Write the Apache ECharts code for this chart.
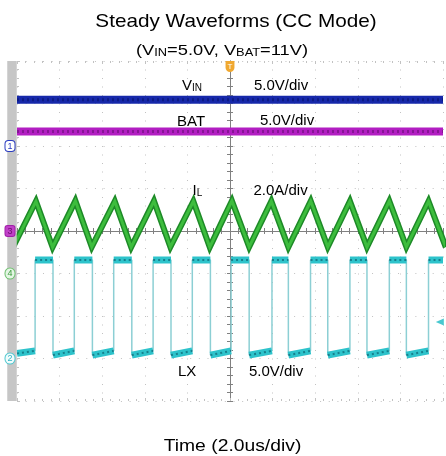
<!DOCTYPE html>
<html>
<head>
<meta charset="utf-8">
<script src="https://cdn.jsdelivr.net/npm/echarts@6/dist/echarts.min.js"></script>
<style>
html, body { margin: 0; padding: 0; background: #fff; }
#chart { width: 446px; height: 456px; }
</style>
</head>
<body>
<div id="chart"></div>
<script>
// scope setup: ground marker position (div) and units per div
const ch1 = { pos: 2, scale: 5 }    // VIN
const ch3 = { pos: 0, scale: 5 }    // BAT
const ch4 = { pos: -1, scale: 2 }   // IL
const ch2 = { pos: -3, scale: 5 }   // LX

// time in us, 2.0us/div
const vinTimes = [-10, 10]
const vinVolts = [5.45, 5.45]
const batTimes = [-10, 10]
const batVolts = [11.7, 11.7]

const ilPeakTimes = [-9.11, -7.26, -5.41, -3.57, -1.72, 0.09, 1.94, 3.79, 5.63, 7.48, 9.32]
const ilPeakAmps = [3.40, 3.42, 3.40, 3.41, 3.40, 3.42, 3.40, 3.41, 3.40, 3.41, 3.40]
const ilValleyTimes = [-10.18, -8.33, -6.49, -4.64, -2.80, -0.95, 0.90, 2.74, 4.59, 6.43, 8.28, 10.13]
const ilValleyAmps = [1.25, 1.24, 1.25, 1.24, 1.25, 1.24, 1.25, 1.24, 1.25, 1.24, 1.25, 1.24]

// LX switch node: goes high at each rise, low at each fall
const lxRiseTimes = [-9.15, -7.31, -5.46, -3.61, -1.77, 0.05, 1.97, 3.78, 5.63, 7.48, 9.32]
const lxFallTimes = [-8.31, -6.46, -4.61, -2.77, -0.92, 0.90, 2.74, 4.59, 6.43, 8.28]
const lxHighVolts = [11.6, 11.6, 11.6, 11.6, 11.6, 11.6, 11.6, 11.6, 11.6, 11.6, 11.6]
const lxLowStartVolts = [0.6, 0.4, 0.4, 0.4, 0.4, 0.4, 0.4, 0.4, 0.4, 0.4, 0.4]
const lxLowEndVolts = [0.9, 0.9, 0.9, 0.9, 0.9, 0.9, 0.9, 0.9, 0.9, 0.9, 0.9]

const toDiv = (ch, v) => ch.pos + v / ch.scale

const vinData = vinTimes.map((t, i) => [t, toDiv(ch1, vinVolts[i])])
const batData = batTimes.map((t, i) => [t, toDiv(ch3, batVolts[i])])

const ilData = []
ilValleyTimes.forEach((t, i) => {
    ilData.push([t, toDiv(ch4, ilValleyAmps[i])])
    if (i < ilPeakTimes.length) ilData.push([ilPeakTimes[i], toDiv(ch4, ilPeakAmps[i])])
})

// thin trace with edges, and the thick level parts split by gaps
const lxEdge = []
const lxLevel = []
let lowStart = -10
lxRiseTimes.forEach((rise, i) => {
    const lo0 = toDiv(ch2, lxLowStartVolts[i])
    const lo1 = toDiv(ch2, lxLowEndVolts[i])
    const hi = toDiv(ch2, lxHighVolts[i])
    const fall = i < lxFallTimes.length ? lxFallTimes[i] : 10
    lxEdge.push([lowStart, lo0], [rise, lo1], [rise, hi], [fall, hi])
    lxLevel.push([lowStart, lo0], [rise, lo1], null, [rise, hi], [fall, hi], null)
    lowStart = fall
})

const FONT = '"Liberation Sans", Arial, sans-serif'
const gridGray = '#c2c2c2'
const crossGray = '#808080'

const chart = echarts.init(document.getElementById('chart'))

const centerAxis = (pos) => ({
    type: 'value', min: -10, max: 10, interval: 2, position: pos,
    axisLine: { onZero: true, onZeroAxisIndex: 0, lineStyle: { color: crossGray, width: 1 } },
    axisTick: { show: true, length: 3, lineStyle: { color: crossGray } },
    minorTick: { show: true, splitNumber: 5, length: 3, lineStyle: { color: crossGray } },
    axisLabel: { show: false },
    splitLine: { show: false }
})
const centerYAxis = (pos) => ({
    type: 'value', min: -4, max: 4, interval: 1, position: pos,
    axisLine: { onZero: true, onZeroAxisIndex: 0, lineStyle: { color: crossGray, width: 1 } },
    axisTick: { show: true, length: 3, lineStyle: { color: crossGray } },
    minorTick: { show: true, splitNumber: 5, length: 3, lineStyle: { color: crossGray } },
    axisLabel: { show: false },
    splitLine: { show: false }
})
const edgeAxis = (kind, pos) => ({
    type: 'value', position: pos,
    min: kind === 'x' ? -10 : -4, max: kind === 'x' ? 10 : 4, interval: kind === 'x' ? 2 : 1,
    axisLine: { show: false, onZero: false },
    axisTick: { show: true, inside: true, length: 3, lineStyle: { color: gridGray } },
    minorTick: { show: true, splitNumber: 5, length: 2, lineStyle: { color: gridGray } },
    axisLabel: { show: false },
    splitLine: { show: false }
})

const markerRich = {
    c1: { color: '#2b3cc0', backgroundColor: '#fff', borderColor: '#2b3cc0', borderWidth: 1, borderRadius: 3, padding: [1, 2, 0, 2], fontSize: 9, fontFamily: FONT },
    c3: { color: '#6a106a', backgroundColor: '#c040c8', borderColor: '#a020a8', borderWidth: 1, borderRadius: 2, padding: [1, 2, 0, 2], fontSize: 9, fontFamily: FONT },
    c4: { color: '#3a9a3a', backgroundColor: '#e4f6e4', borderColor: '#70c070', borderWidth: 1, borderRadius: 6, padding: [1, 2, 0, 2], fontSize: 9, fontFamily: FONT },
    c2: { color: '#30b4c4', backgroundColor: '#f0fcfc', borderColor: '#50c8d0', borderWidth: 1, borderRadius: 6, padding: [1, 2, 0, 2], fontSize: 9, fontFamily: FONT }
}
const markerAt = { '2': '{c1|1}', '0': '{c3|3}', '-1': '{c4|4}', '-3': '{c2|2}' }

const labelRich = {
    m: { fontSize: 15, lineHeight: 15, fontFamily: FONT, fill: '#000' },
    s: { fontSize: 10, lineHeight: 11, fontFamily: FONT, verticalAlign: 'bottom', fill: '#000' }
}
const txt = (x, y, text, extra) => Object.assign({
    type: 'text', x: x, y: y, silent: true, z: 100,
    style: { text: text, fill: '#000', font: '15px ' + FONT, align: 'left', verticalAlign: 'middle', rich: labelRich }
}, extra || {})

chart.setOption({
    animation: false,
    backgroundColor: '#fff',
    grid: { left: 17, top: 61, width: 433, height: 340, containLabel: false },
    xAxis: [
        Object.assign(centerAxis('bottom'), {
            splitLine: { show: true, lineStyle: { color: gridGray, width: 1, type: [1, 7.5] } }
        }),
        centerAxis('top'),
        Object.assign(edgeAxis('x', 'top'), {
            axisLabel: {
                show: true, inside: true, margin: 0, interval: 0,
                formatter: v => v === 0 ? '{t|T}' : '',
                rich: { t: { color: '#fff', backgroundColor: '#f0a830', borderRadius: [0, 0, 5, 5], fontSize: 8, padding: [2, 2, 1, 2], fontFamily: FONT } }
            }
        }),
        edgeAxis('x', 'bottom')
    ],
    yAxis: [
        Object.assign(centerYAxis('left'), {
            splitLine: { show: true, lineStyle: { color: gridGray, width: 1, type: [1, 7.66] } }
        }),
        centerYAxis('right'),
        {
            type: 'value', min: -4, max: 4, interval: 1, position: 'left', offset: 5, z: 10,
            axisLine: { show: true, onZero: false, lineStyle: { color: '#c6c6c6', width: 9.5, cap: 'butt' } },
            axisTick: { show: false },
            axisLabel: {
                show: true, margin: 2, align: 'center',
                formatter: v => markerAt[String(v)] || '',
                rich: markerRich
            },
            splitLine: { show: false }
        },
        edgeAxis('y', 'left')
    ],
    graphic: [
        txt(236, 22, '', { scaleX: 1.12, style: { text: 'Steady Waveforms (CC Mode)', fill: '#000', font: '18.5px ' + FONT, align: 'center', verticalAlign: 'middle' } }),
        txt(222, 51, '', {
            scaleX: 1.22,
            style: {
                text: '{m|(V}{s|IN}{m|=5.0V, V}{s|BAT}{m|=11V)}', align: 'center', verticalAlign: 'middle', fill: '#000',
                rich: {
                    m: { fontSize: 15, lineHeight: 15, fontFamily: FONT, fill: '#000' },
                    s: { fontSize: 10.5, lineHeight: 11, fontFamily: FONT, verticalAlign: 'bottom', fill: '#000' }
                }
            }
        }),
        txt(232.5, 446, '', { scaleX: 1.17, style: { text: 'Time (2.0us/div)', fill: '#000', font: '16.5px ' + FONT, align: 'center', verticalAlign: 'middle' } }),
        txt(182, 86, '{m|V}{s|IN}'),
        txt(254, 86, '5.0V/div'),
        txt(177, 121.5, 'BAT'),
        txt(260, 121, '5.0V/div'),
        txt(192.5, 191, '{m|I}{s|L}'),
        txt(253.5, 190.5, '2.0A/div'),
        txt(178, 371.5, 'LX'),
        txt(249, 371.5, '5.0V/div')
    ],
    series: [
        {
            name: 'LX edges', type: 'line', data: lxEdge, symbol: 'none',
            lineStyle: { color: '#8ccfd4', width: 1.5 },
            markPoint: {
                symbol: 'triangle', symbolSize: [7, 8], symbolRotate: 90, silent: true,
                itemStyle: { color: '#48c8d0' }, label: { show: false },
                data: [{ coord: [9.85, -2.14] }]
            }
        },
        {
            name: 'LX', type: 'line', data: lxLevel, symbol: 'none', connectNulls: false,
            lineStyle: { color: '#2ec3cb', width: 7 }
        },
        {
            name: 'LX noise', type: 'line', data: lxLevel, symbol: 'none', connectNulls: false,
            lineStyle: { color: '#0d6472', width: 2, type: [2, 3], opacity: 0.7 }
        },
        {
            name: 'VIN', type: 'line', data: vinData, symbol: 'none',
            lineStyle: { color: '#1628aa', width: 8 }
        },
        {
            name: 'VIN noise', type: 'line', data: vinData, symbol: 'none',
            lineStyle: { color: '#08126a', width: 3, type: [2, 3], opacity: 0.6 }
        },
        {
            name: 'BAT', type: 'line', data: batData, symbol: 'none',
            lineStyle: { color: '#b21ec2', width: 8 }
        },
        {
            name: 'BAT noise', type: 'line', data: batData, symbol: 'none',
            lineStyle: { color: '#5c0a6a', width: 3, type: [2, 3], opacity: 0.5 }
        },
        {
            name: 'IL', type: 'line', data: ilData, symbol: 'none',
            lineStyle: { color: '#1d8a27', width: 6, join: 'miter' }
        },
        {
            name: 'IL core', type: 'line', data: ilData, symbol: 'none',
            lineStyle: { color: '#3dbd3d', width: 3, join: 'miter' }
        }
    ]
})
</script>
</body>
</html>
